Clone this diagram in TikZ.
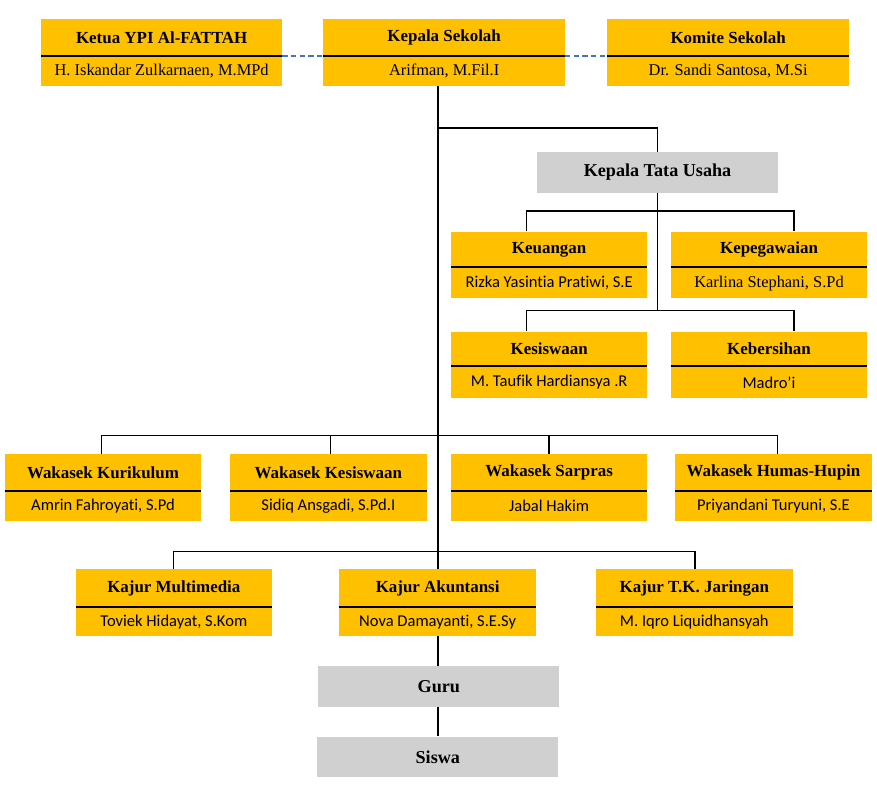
\documentclass[tikz,border=0pt]{standalone}
\usepackage{fontspec}
\setmainfont{Liberation Serif}
\newfontfamily\calib[Ligatures=NoCommon]{Carlito}
\definecolor{boxyellow}{RGB}{255,192,0}
\definecolor{boxgray}{RGB}{208,208,208}
\definecolor{dashblue}{RGB}{68,114,196}
\tikzset{
  yb/.style={fill=boxyellow, draw=none, inner sep=0pt},
  gb/.style={fill=boxgray, draw=none, inner sep=0pt, font=\bfseries\fontsize{13.6}{16}\selectfont},
  ttl/.style={inner sep=0pt, font=\bfseries\fontsize{12.7}{14}\selectfont},
  subt/.style={inner sep=0pt, font=\fontsize{12.3}{14}\selectfont},
  subc/.style={inner sep=0pt, font=\calib\fontsize{12.4}{14}\selectfont},
  divline/.style={line width=1.6pt, black},
  conn/.style={line width=0.85pt, black},
  dashconn/.style={line width=1.2pt, dashblue, dash pattern=on 4pt off 2.5pt}
}
% name, x1, y1, x2, y2, ydiv, title, sub, substyle
\newcommand\ybox[9]{%
  \node[yb, minimum width={(#4-#2)*0.75pt}, minimum height={(#5-#3)*0.75pt}] (#1) at ({(#2+#4)/2},{(#3+#5)/2}) {};
  \coordinate (#1-dl) at (#2,#6);
  \coordinate (#1-dr) at (#4,#6);
  \draw[divline] (#1-dl) -- (#1-dr);
  \node[ttl] (#1-t) at ({(#2+#4)/2},{(#3+#6)/2}) {#7};
  \node[#9] (#1-s) at ({(#2+#4)/2},{(#6+#5)/2+0.5}) {#8};
}
\newcommand\gbox[6]{%
  \node[gb, minimum width={(#4-#2)*0.75pt}, minimum height={(#5-#3)*0.75pt}] (#1) at ({(#2+#4)/2},{(#3+#5)/2}) {#6};
}
\begin{document}
\begin{tikzpicture}[x=0.75pt, y=-0.75pt]
\useasboundingbox (0,0) rectangle (877,800);
% top row
\ybox{kt}{41}{19.3}{282.3}{86}{55.7}{Ketua YPI Al-FATTAH}{H. Iskandar Zulkarnaen, M.MPd}{subt}
\ybox{ks}{323.3}{19.3}{565}{86}{55.7}{Kepala Sekolah}{Arifman, M.Fil.I}{subt}
\ybox{km}{607.3}{19.3}{849}{86}{55.7}{Komite Sekolah}{Dr. Sandi Santosa, M.Si}{subt}
\draw[dashconn] (kt-dr) -- (ks-dl);
\draw[dashconn] (ks-dr) -- (km-dl);
% tata usaha
\gbox{ktu}{536.7}{152.3}{778.3}{192.7}{Kepala Tata Usaha}
\ybox{ku}{451}{231.7}{647.3}{298.3}{267}{Keuangan}{Rizka Yasintia Pratiwi, S.E}{subc}
\ybox{kp}{670.7}{231.7}{867.3}{298.3}{267}{Kepegawaian}{Karlina Stephani, S.Pd}{subt}
\ybox{kw}{451}{331.7}{647.3}{398.3}{365.7}{Kesiswaan}{M. Taufik Hardiansya .R}{subc}
\ybox{kb}{670.7}{331.7}{867.3}{398.3}{365.7}{Kebersihan}{Madro’i}{subc}
% wakasek
\ybox{w1}{5}{454.3}{201}{520.7}{490.7}{Wakasek Kurikulum}{Amrin Fahroyati, S.Pd}{subc}
\ybox{w2}{230}{454.3}{426.7}{520.7}{490.7}{Wakasek Kesiswaan}{Sidiq Ansgadi, S.Pd.I}{subc}
\ybox{w3}{451}{454.3}{647.3}{520.7}{490.7}{Wakasek Sarpras}{Jabal Hakim}{subc}
\ybox{w4}{675.3}{454.3}{871.7}{520.7}{490.7}{Wakasek Humas-Hupin}{Priyandani Turyuni, S.E}{subc}
% kajur
\ybox{j1}{76}{569.3}{271.7}{636}{606.7}{Kajur Multimedia}{Toviek Hidayat, S.Kom}{subc}
\ybox{j2}{339.3}{569.3}{536}{636}{606.7}{Kajur Akuntansi}{Nova Damayanti, S.E.Sy}{subc}
\ybox{j3}{596}{569.3}{792.7}{636}{606.7}{Kajur T.K. Jaringan}{M. Iqro Liquidhansyah}{subc}
% guru siswa
\gbox{guru}{318.3}{666.3}{559.3}{707}{Guru}
\gbox{siswa}{317.3}{736.7}{558.3}{777.3}{Siswa}
% connectors
\coordinate (main) at (438,86);
\draw[conn] (ks.south -| main) -- (j2.north -| main);
\coordinate (tu) at (438,128);
\draw[conn] (tu) -| (ktu.north);
\coordinate (tua) at (526.7,211);
\coordinate (tub) at (794,211);
\coordinate (tuc) at (526.7,310.7);
\coordinate (tud) at (794,310.7);
\draw[conn] (ktu.south) -- (ktu.south |- tuc);
\draw[conn] (tua |- ku.north) -- (tua) -- (tub) -- (tub |- kp.north);
\draw[conn] (tuc |- kw.north) -- (tuc) -- (tud) -- (tud |- kb.north);
\coordinate (wa) at (101.7,435.7);
\coordinate (wb) at (330.7,435.7);
\coordinate (wc) at (549,435.7);
\coordinate (wd) at (777.7,435.7);
\draw[conn] (wa |- w1.north) -- (wa) -- (wd) -- (wd |- w4.north);
\draw[conn] (wb) -- (wb |- w2.north);
\draw[conn] (wc) -- (wc |- w3.north);
\coordinate (ja) at (173.7,551.7);
\coordinate (jb) at (695,551.7);
\draw[conn] (ja |- j1.north) -- (ja) -- (jb) -- (jb |- j3.north);
\draw[conn] (j2.south -| main) -- (guru.north -| main);
\draw[conn] (guru.south -| main) -- (siswa.north -| main);
\end{tikzpicture}
\end{document}
